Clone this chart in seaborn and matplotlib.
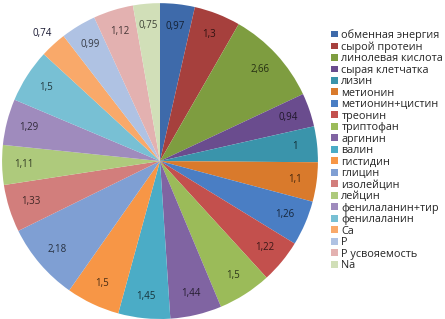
import numpy as np
import matplotlib
matplotlib.use('Agg')
import matplotlib.pyplot as plt
import seaborn as sns

# nutrient names and their values
labels = ['обменная энергия', 'сырой протеин', 'линолевая кислота', 'сырая клетчатка',
          'лизин', 'метионин', 'метионин+цистин', 'треонин', 'триптофан', 'аргинин',
          'валин', 'гистидин', 'глицин', 'изолейцин', 'лейцин', 'фенилаланин+тир',
          'фенилаланин', 'Ca', 'P', 'P усвояемость', 'Na']
values = [0.97, 1.3, 2.66, 0.94, 1, 1.1, 1.26, 1.22, 1.5, 1.44,
          1.45, 1.5, 2.18, 1.33, 1.11, 1.29, 1.5, 0.74, 0.99, 1.12, 0.75]
colors = ['#3E6AAA', '#A6403D', '#7E9D40', '#6A4C8E', '#3A94AB', '#D97A2C',
          '#4A7EC4', '#C3504D', '#9BBB59', '#8064A2', '#4BACC6', '#F79646',
          '#7F9FD3', '#D27E7C', '#AECA7C', '#9F8BBD', '#78C0D4', '#F9A96A',
          '#AFC2E3', '#E3B1B0', '#D1DFB8']
outside = ['Ca']  # this label sits outside the pie

sns.set_style('white')
plt.rcParams['font.family'] = ['Open Sans', 'DejaVu Sans']

fig = plt.figure(figsize=(4.45, 3.19), dpi=100)
ax = fig.add_axes([0.0, 0.0, 320 / 445, 1.0])

wedges, _ = ax.pie(values, colors=colors, startangle=90, counterclock=False,
                   radius=1.0, wedgeprops=dict(linewidth=0))

for w, v, name, c in zip(wedges, values, labels, colors):
    ang = np.deg2rad((w.theta1 + w.theta2) / 2)
    r = 1.1 if name in outside else 0.86
    rgb = np.array(matplotlib.colors.to_rgb(c))
    tc = '#1a1a33' if name in outside else tuple(rgb * 0.3)
    txt = f'{v:g}'.replace('.', ',')
    ax.text(r * np.cos(ang), r * np.sin(ang), txt, ha='center', va='center',
            fontsize=7, color=tc)

ax.set_xlim(-1.01, 1.01)
ax.set_ylim(-1.0, 1.02)
ax.set_aspect('equal')

fig.legend(wedges, labels, loc='upper left', bbox_to_anchor=(331 / 445, 1 - 29 / 319),
           frameon=False, fontsize=7.8, handlelength=0.6, handleheight=0.6,
           handletextpad=0.35, labelspacing=0.045, borderaxespad=0, borderpad=0)

fig.savefig('out.png', dpi=100)
